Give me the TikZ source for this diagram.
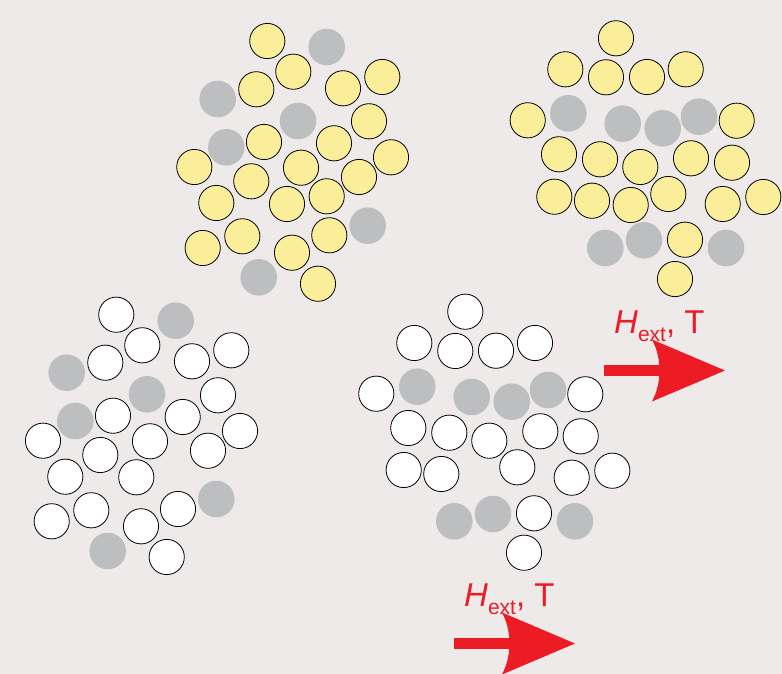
\documentclass[tikz,border=0pt]{standalone}
\usepackage{fontspec}
\setmainfont{Liberation Sans}
\definecolor{bgpaper}{RGB}{238,234,233}
\definecolor{grainyellow}{RGB}{251,238,154}
\definecolor{graingray}{RGB}{189,190,192}
\definecolor{fieldred}{RGB}{237,28,36}
\tikzset{
  grain/.style={draw=black, line width=0.8pt},
  yellowgrain/.style={grain, fill=grainyellow},
  whitegrain/.style={grain, fill=white},
  graygrain/.style={fill=graingray},
  fieldlabel/.style={text=fieldred, inner sep=0pt, font=\fontsize{33}{33}\selectfont},
  pics/fieldarrow/.style={code={
    \fill[fieldred] (-121,-5.5) rectangle (-62,5.5);
    \fill[fieldred] (0,0) -- (-73,-31) .. controls (-63,-12) and (-63,12) .. (-73,31) -- cycle;
    \node[fieldlabel, anchor=base west] (label) at (-111,-37.5)
      {\textit{H}\raisebox{-8pt}{\fontsize{21}{21}\selectfont ext}, T};
  }}
}
\begin{document}
\begin{tikzpicture}[x=1pt,y=-1pt]
  \fill[bgpaper] (0,0) rectangle (782,674);
  \useasboundingbox (0,0) rectangle (782,674);
  \def\rg{17.6}
  \def\rs{18.3}
  % upper left cluster
  \foreach \p in {(326.7,47),(217.7,99),(298,121),(226.3,147.3),(367.7,225.7),(258.7,277.3)}
    \fill[graygrain] \p circle (\rs);
  \foreach \p in {(267.3,41),(293.3,71.7),(256.3,89.3),(343,88.3),(382.3,77),(369,121.3),(264,142),(334,143.3),(194.3,167),(301,167.7),(251.3,181.3),(359,177),(391,157.3),(216.3,203),(287,204),(326.7,196.3),(202.7,248),(242.3,236.3),(292,252.7),(329.3,235.3),(318,283.7)}
    \draw[yellowgrain] \p circle (\rg);
  % upper right cluster
  \foreach \p in {(568.3,113.3),(622.7,123.7),(662.7,128.3),(699,116.7),(605.3,248),(644,240.3),(726,248)}
    \fill[graygrain] \p circle (\rs);
  \foreach \p in {(616,38.3),(565.3,69.3),(606,77.3),(647,77),(685.7,69.3),(527.7,120.3),(736.7,120.7),(559,154.3),(600,159.3),(640.3,167),(691,158.3),(732,162.7),(554.3,196.7),(592,200.7),(630.7,205),(668.3,194),(722.7,204),(763.3,197),(685,239.7),(675,279)}
    \draw[yellowgrain] \p circle (\rg);
  % lower left cluster
  \foreach \p in {(175.7,320.7),(66.7,372.7),(147,394.3),(75.3,421),(216.3,499),(107.7,551)}
    \fill[graygrain] \p circle (\rs);
  \foreach \p in {(116.3,314.7),(142.3,345.3),(105.3,362.7),(192,361.3),(231.3,350.3),(218,395.3),(113,415.7),(182.7,417),(43,440.7),(150,441.3),(100.3,455),(208,450.7),(240,431),(65.3,476.7),(136.3,477.3),(178,509),(91.3,510.3),(51.7,521.3),(141,526.3),(166.7,557)}
    \draw[whitegrain] \p circle (\rg);
  % lower right cluster
  \foreach \p in {(417.3,386.7),(471.7,397),(511.7,401.7),(548,390),(454.3,521.3),(493,514),(575,521.3)}
    \fill[graygrain] \p circle (\rs);
  \foreach \p in {(465.3,311.7),(414.3,343),(455.3,351),(496,350.7),(535,343),(376.3,393.7),(585.3,394.3),(408.3,428),(449.3,432.7),(489.3,440.7),(540.3,431.3),(580.7,436.3),(403.7,470),(441.3,474),(517.3,467.3),(571.7,477.7),(612.3,470.7),(534,513.3),(524,552.7)}
    \draw[whitegrain] \p circle (\rg);
  % applied field arrows
  \pic (upper) at (725,370.5) {fieldarrow};
  \pic (lower) at (575,643.5) {fieldarrow};
\end{tikzpicture}
\end{document}
